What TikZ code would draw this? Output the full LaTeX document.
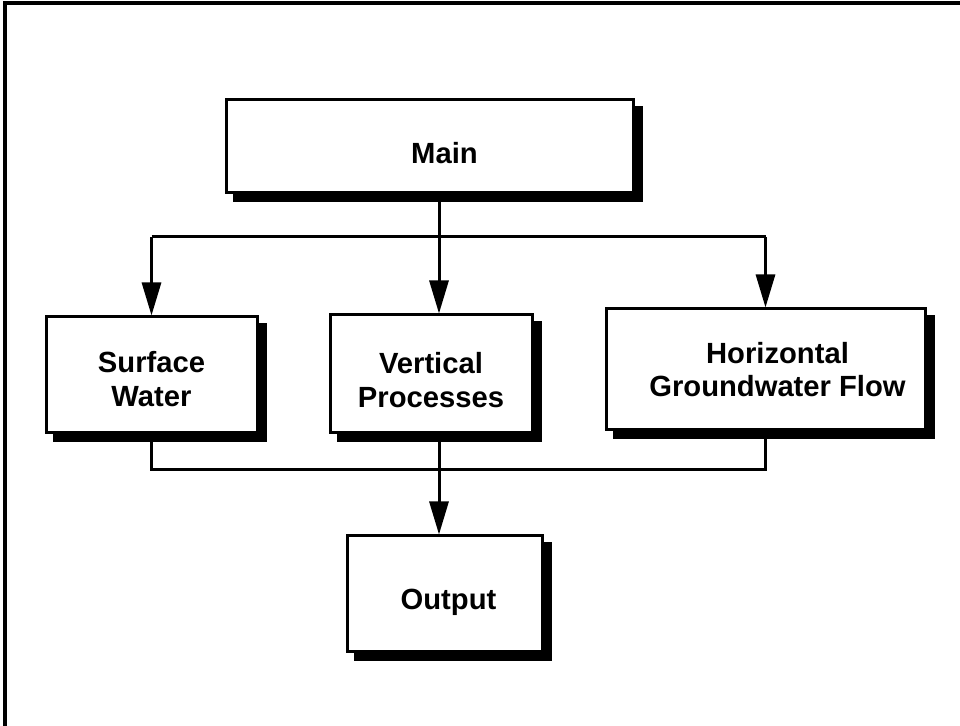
\documentclass[tikz,border=0pt]{standalone}
\usepackage{fontspec}
\setmainfont{Liberation Sans}
\usetikzlibrary{arrows.meta,shadows}
% lower a label visually without changing its reported size
\newcommand{\dropby}[2]{\raisebox{-#1}[\height][\depth]{#2}}
\begin{document}
\begin{tikzpicture}[x=0.5pt,y=-0.5pt,
  modbox/.style={draw=black, line width=1.5pt, fill=white, inner sep=0pt,
    align=center, font=\fontsize{14.6}{16.8}\selectfont\bfseries,
    copy shadow={shadow xshift=4pt, shadow yshift=-4pt, fill=black, draw=black, opacity=1}},
  link/.style={line width=1.5pt},
  flow/.style={link, -{Triangle[length=16.5pt,width=9.5pt]}},
  frame/.style={line width=1.7pt}
]
\useasboundingbox (0,0) rectangle (960,726);
% outer frame (top and left edges)
\draw[frame] (960,3) -- (5,3) -- (5,726);

% modules
\node[modbox, minimum width=203.5pt, minimum height=46.5pt] (main) at (429.5,146.5) {\dropby{3.5pt}{\hspace*{15pt}Main}};
\node[modbox, minimum width=105.5pt, minimum height=58pt] (sw) at (151.5,375) {\dropby{2pt}{Surface}\\\dropby{2pt}{Water}};
\node[modbox, minimum width=101pt, minimum height=59pt] (vp) at (431,374) {\dropby{3pt}{Vertical}\\\dropby{3pt}{Processes}};
\node[modbox, minimum width=159.5pt, minimum height=60.5pt] (hg) at (765.5,369.5) {\hspace*{12pt}Horizontal\\\hspace*{12pt}Groundwater Flow};
\node[modbox, minimum width=97.5pt, minimum height=58pt] (out) at (444.5,594) {\dropby{4pt}{\hspace*{4pt}Output}};

% routing helpers
\coordinate (spine) at (439,0);
\coordinate (bus) at (0,237);
\coordinate (collect) at (0,470);

% distribution from Main
\draw[link] (main.south -| spine) -- (spine |- bus);
\draw[link] (sw.north |- bus) -- (hg.north |- bus);
\draw[flow] (sw.north |- bus) -- (sw.north);
\draw[flow] (spine |- bus) -- (vp.north -| spine);
\draw[flow] (hg.north |- bus) -- (hg.north);

% collection into Output
\draw[link] (sw.south) |- (hg.south |- collect) -- (hg.south);
\draw[flow] (vp.south -| spine) -- (out.north -| spine);
\end{tikzpicture}
\end{document}
